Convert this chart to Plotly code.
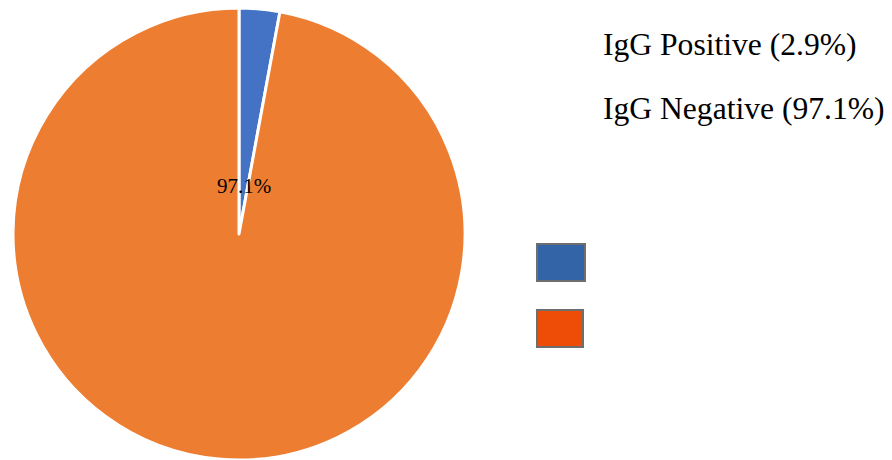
import plotly.graph_objects as go

# Data
labels = ["IgG Positive", "IgG Negative"]
values = [2.9, 97.1]
slice_colors = ["#4472C4", "#ED7D31"]
legend_colors = ["#3464A8", "#EE4D08"]

W, H = 892, 460
SERIF = "Times New Roman"

def px(x):
    return x / W

def py(y):
    return 1 - y / H

fig = go.Figure()
fig.add_trace(go.Pie(
    labels=labels,
    values=values,
    sort=False,
    direction="clockwise",
    rotation=0,
    marker=dict(colors=slice_colors, line=dict(color="white", width=3)),
    textinfo="none",
    hoverinfo="label+percent",
    showlegend=False,
    domain=dict(x=[px(13), px(465)], y=[0, 452 / H]),
))

annotations = []
# slice label (Negative share shown near centre, as in the reference)
annotations.append(dict(
    x=px(244), y=py(186), xref="paper", yref="paper",
    text=f"{values[1]}%", showarrow=False,
    font=dict(family=SERIF, size=21, color="black"),
    xanchor="center", yanchor="middle",
))
# legend texts
text_y = [44, 109]
for lab, val, ty in zip(labels, values, text_y):
    annotations.append(dict(
        x=px(601), y=py(ty), xref="paper", yref="paper",
        text=f"{lab} ({val}%)", showarrow=False,
        font=dict(family=SERIF, size=31.6, color="black"),
        xanchor="left", yanchor="middle",
    ))

# legend swatches
boxes = [(537, 244, 585, 281), (537, 310, 583, 347)]
shapes = []
for (x0, y0, x1, y1), c in zip(boxes, legend_colors):
    shapes.append(dict(
        type="rect", xref="paper", yref="paper",
        x0=px(x0), x1=px(x1), y0=py(y1), y1=py(y0),
        fillcolor=c, line=dict(color="#6E6E6E", width=2),
    ))

fig.update_layout(
    width=W, height=H,
    margin=dict(l=0, r=0, t=0, b=0),
    paper_bgcolor="white", plot_bgcolor="white",
    font=dict(family=SERIF),
    annotations=annotations, shapes=shapes,
)

fig.write_html("out.html")
